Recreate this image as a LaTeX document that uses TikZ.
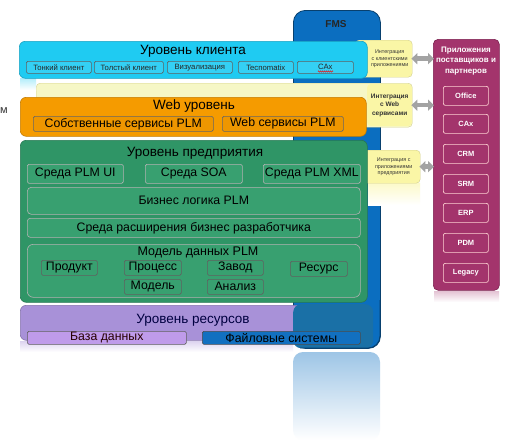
\documentclass[tikz,border=0pt]{standalone}
\usepackage{fontspec}
\setmainfont{Liberation Sans}
\usetikzlibrary{arrows.meta,decorations.pathmorphing}
\definecolor{fmsblue}{HTML}{0B6EC0}
\definecolor{fmsdark}{HTML}{08406E}
\definecolor{cyanlvl}{HTML}{1FCBF2}
\definecolor{cyansub}{HTML}{34D0F4}
\definecolor{orangelvl}{HTML}{F59B00}
\definecolor{orangesub}{HTML}{EE9600}
\definecolor{greenlvl}{HTML}{2F9566}
\definecolor{greensub}{HTML}{38A070}
\definecolor{purplelvl}{HTML}{A891D8}
\definecolor{dbsub}{HTML}{BF9BEA}
\definecolor{filesub}{HTML}{1270C0}
\definecolor{tealpart}{HTML}{1A70A6}
\definecolor{intyellow}{HTML}{FAF6A6}
\definecolor{bandyellow}{HTML}{F6F7C6}
\definecolor{partnerlvl}{HTML}{A3346C}
\definecolor{partnerdark}{HTML}{7A1F4E}
\definecolor{arrowgray}{HTML}{A3A3A3}
\tikzset{
  sz/.style 2 args={minimum width=#1, minimum height=#2, inner sep=0pt, anchor=north west},
  lvl/.style={rounded corners=6pt, draw=#1!80!black, line width=0.6pt, fill=#1},
  subbox/.style={rounded corners=1.5pt, draw=gray!75!black, line width=0.6pt, fill=#1},
  intbox/.style={rounded corners=4pt, fill=intyellow, draw=intyellow!85!black, line width=0.4pt},
  pbox/.style={rounded corners=2pt, draw=pink!70!white, line width=0.7pt, fill=partnerlvl, text=white, font=\fontsize{7.5}{8}\selectfont\bfseries},
  ctext/.style={font=\fontsize{7.7}{8}\selectfont, text=black!85},
  gtext/.style={font=\fontsize{12.3}{13}\selectfont, text=black},
  ttl/.style={font=\fontsize{13.5}{15}\selectfont, text=black},
  garrow/.style={draw=arrowgray, line width=4.5pt, {Triangle[width=11pt,length=6pt]}-{Triangle[width=11pt,length=6pt]}, shorten <=-1pt, shorten >=-1pt},
}
\begin{document}
\begin{tikzpicture}[x=1pt,y=-1pt]
\useasboundingbox (0,0) rectangle (506,440);
\fill[white] (0,0) rectangle (506,440);

% FMS column and its reflection
\shade[top color=fmsblue!40!white, bottom color=white, rounded corners=10pt] (293,440) -- (293,352) -- (380,352) -- (380,440) -- cycle;
\node[sz={87}{338}, rounded corners=12pt, fill=fmsblue, draw=fmsdark, line width=0.8pt] (fms) at (293,10) {};
\node[font=\fontsize{10}{12}\selectfont\bfseries, text=black!85] (fmstitle) at (336,24) {FMS};

% purple resource level under the column
\node[sz={290}{35}, lvl=purplelvl] (reslvl) at (20,305) {};
\shade[top color=purplelvl!40!white, bottom color=white] (20,341) rectangle (293,352);
\node[sz={80}{44}, rounded corners=8pt, fill=tealpart, draw=none] (restail) at (293,304) {};
\draw[fmsdark, line width=0.8pt, rounded corners=12pt] (380,300) -- (380,348) -- (300,348);

% partner box
\shade[top color=partnerlvl!30!white, bottom color=white] (434,291) rectangle (499,302);
\node[sz={66}{251}, rounded corners=5pt, fill=partnerlvl, draw=partnerdark, line width=0.6pt] (partner) at (433,39) {};
\node[font=\fontsize{8}{10.5}\selectfont\bfseries, text=white, align=center] (ptitle) at (466,61) {Приложения\\поставщиков и\\партнеров};
\node[pbox, sz={45}{19}] (office) at (443,86) {Office};
\node[pbox, sz={45}{19}] (cax2) at (443,114) {CAx};
\node[pbox, sz={45}{19}] (crm) at (443,144) {CRM};
\node[pbox, sz={45}{19}] (srm) at (443,174) {SRM};
\node[pbox, sz={45}{19}] (erp) at (443,203) {ERP};
\node[pbox, sz={45}{19}] (pdm) at (443,233) {PDM};
\node[pbox, sz={45}{19}] (legacy) at (443,263) {Legacy};

% integration boxes
\node[intbox, sz={57}{37}] (int1bg) at (355,40) {};
\node[sz={45}{37}, font=\fontsize{5.4}{6.5}\selectfont, text=black!80, align=center] (int1) at (367,40) {Интеграция\\с клиентскими\\приложениями};
\node[intbox, fill=bandyellow, sz={376}{44}] (webband) at (36,83) {};
\fill[intyellow, rounded corners=4pt] (367,84) rectangle (412,126);
\node[sz={45}{44}, font=\fontsize{6.5}{8.3}\selectfont\bfseries, text=black!80, align=center] (int2) at (367,83) {Интеграция\\с Web\\сервисами};
\shade[top color=intyellow!60!white, bottom color=white] (368,183) rectangle (420,205);
\node[intbox, sz={65}{33}] (int3bg) at (355,150) {};
\node[sz={53}{33}, font=\fontsize{5.4}{6.7}\selectfont, text=black!80, align=center] (int3) at (367,150) {Интеграция с\\приложениями\\предприятия};

% arrows
\draw[garrow] (int1.east) -- (int1.east -| partner.west);
\draw[garrow] (int2.east) -- (int2.east -| partner.west);
\draw[garrow] (int3.east) -- (int3.east -| partner.west);

% client level
\shade[top color=cyanlvl!35!white, bottom color=white] (20,78) rectangle (36,90);
\node[sz={348}{37}, lvl=cyanlvl] (client) at (19,41) {};
\node[ttl] (tclient) at (193,51) {Уровень клиента};
\node[subbox=cyansub, sz={65}{12}, ctext] (thin) at (26,61) {Тонкий клиент};
\node[subbox=cyansub, sz={69}{12}, ctext] (thick) at (94,61) {Толстый клиент};
\node[subbox=cyansub, sz={65}{12}, ctext] (vis) at (167,61) {Визуализация};
\node[subbox=cyansub, sz={55}{12}, ctext] (tecno) at (238,61) {Tecnomatix};
\node[subbox=cyansub, sz={56}{12}, ctext] (cax1) at (297,61) {CAx};
\draw[red, line width=0.4pt, decorate, decoration={zigzag, segment length=2pt, amplitude=0.7pt}] (318,71.5) -- (333,71.5);

% web level
\node[sz={346}{39}, lvl=orangelvl] (web) at (20,97) {};
\node[ttl] (tweb) at (194,106) {Web уровень};
\node[subbox=orangesub, sz={180}{15}, gtext, draw=black!60] (own) at (33,116) {Собственные сервисы PLM};
\node[subbox=orangesub, sz={121}{15}, gtext, draw=black!60] (websrv) at (222,116) {Web сервисы PLM};

% enterprise level
\node[sz={347}{162}, lvl=greenlvl] (ent) at (20,140) {};
\node[ttl] (tent) at (195,153) {Уровень предприятия};
\node[subbox=greensub, sz={96}{19}, gtext, draw=gray!60] (plmui) at (27,164) {Среда PLM UI};
\node[subbox=greensub, sz={97}{19}, gtext, draw=gray!60] (soa) at (145,164) {Среда SOA};
\node[subbox=greensub, sz={97}{19}, gtext, draw=gray!60] (plmxml) at (263,164) {Среда PLM XML};
\node[subbox=greensub, sz={333}{27}, gtext, draw=gray!60, rounded corners=4pt] (logic) at (27,187) {Бизнес логика PLM};
\node[subbox=greensub, sz={333}{19}, gtext, draw=gray!60, rounded corners=3pt] (ext) at (27,218) {Среда расширения бизнес разработчика};
\node[subbox=greensub, sz={333}{53}, draw=gray!60, rounded corners=6pt] (model) at (27,244) {};
\node[gtext, font=\fontsize{12.5}{13}\selectfont] (tmodel) at (198,252) {Модель данных PLM};
\node[subbox=greensub, sz={56}{15}, gtext] (prod) at (41,260) {Продукт};
\node[subbox=greensub, sz={57}{15}, gtext] (proc) at (124,260) {Процесс};
\node[subbox=greensub, sz={56}{15}, gtext] (plant) at (207,260) {Завод};
\node[subbox=greensub, sz={57}{15}, gtext] (resrc) at (290,261) {Ресурс};
\node[subbox=greensub, sz={57}{15}, gtext] (mdl) at (124,279) {Модель};
\node[subbox=greensub, sz={56}{15}, gtext] (anl) at (207,279) {Анализ};

% resource level texts and boxes
\node[ttl, text=black!75!blue] (tres) at (193,320) {Уровень ресурсов};
\node[subbox=dbsub, sz={159}{13}, gtext, text=black!85!red] (db) at (27,331) {База данных};
\node[subbox=filesub, sz={158}{13}, gtext, draw=black!70] (files) at (202,331) {Файловые системы};

% stray letter at left edge
\node[font=\fontsize{11}{12}\selectfont, text=black!80] (stray) at (4,111) {м};
\end{tikzpicture}
\end{document}
